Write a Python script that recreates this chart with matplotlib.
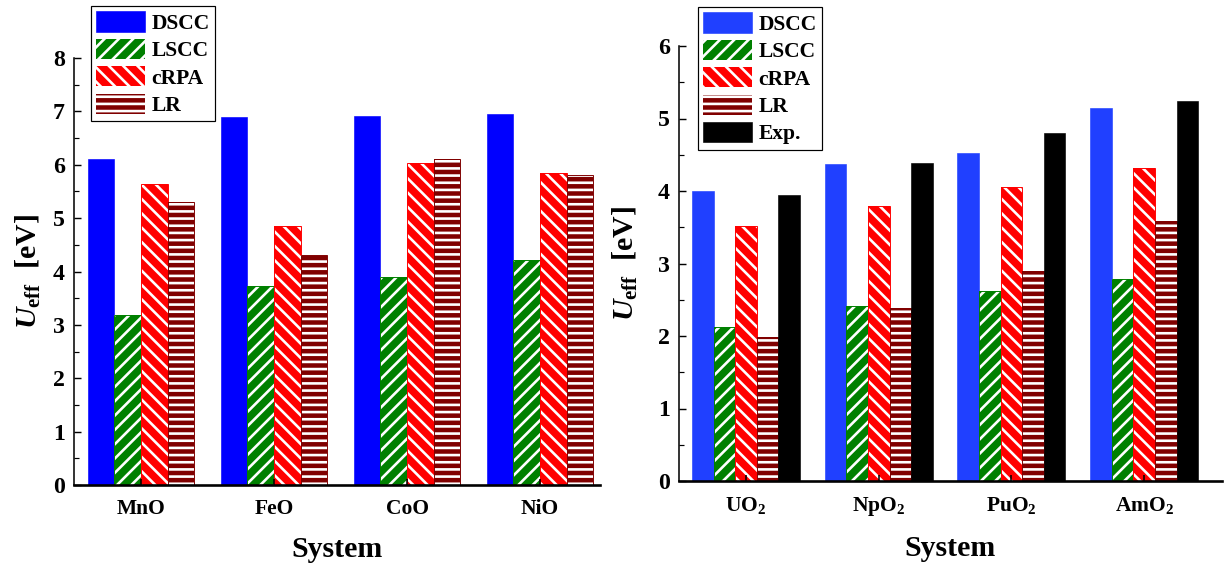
import matplotlib
matplotlib.use("Agg")
import matplotlib.pyplot as plt
import numpy as np

# ---- data ----
left_systems = ["MnO", "FeO", "CoO", "NiO"]
left_dscc = [6.10, 6.90, 6.91, 6.95]
left_lscc = [3.18, 3.73, 3.90, 4.21]
left_crpa = [5.63, 4.86, 6.04, 5.85]
left_lr = [5.30, 4.30, 6.11, 5.81]

right_systems = [r"UO$_2$", r"NpO$_2$", r"PuO$_2$", r"AmO$_2$"]
right_dscc = [4.00, 4.37, 4.52, 5.14]
right_lscc = [2.13, 2.42, 2.62, 2.79]
right_crpa = [3.52, 3.79, 4.06, 4.32]
right_lr = [1.99, 2.39, 2.89, 3.59]
right_exp = [3.95, 4.38, 4.80, 5.24]

series_names = ["DSCC", "LSCC", "cRPA", "LR", "Exp."]

DPI = 86
plt.rcParams.update({
    "font.family": "serif",
    "font.serif": ["Liberation Serif", "DejaVu Serif"],
    "font.weight": "bold",
    "mathtext.fontset": "custom",
    "mathtext.rm": "Liberation Serif:bold",
    "mathtext.bf": "Liberation Serif:bold",
    "mathtext.it": "Liberation Serif:italic:bold",
    "hatch.linewidth": 2.2,
})

W, H = 1224, 564
fig = plt.figure(figsize=(W / DPI, H / DPI), dpi=DPI)

# axes boxes in pixels: (left, right, top, bottom)
L1 = (74, 600, 58, 485)
L2 = (679, 1222, 46, 481)


def box(b):
    l, r, t, bt = b
    return [l / W, (H - bt) / H, (r - l) / W, (bt - t) / H]


ax1 = fig.add_axes(box(L1))
ax2 = fig.add_axes(box(L2))

styles = {
    "DSCC": dict(hatch=None),
    "LSCC": dict(color="#008000", hatch="//"),
    "cRPA": dict(color="#FF0000", hatch="\\\\"),
    "LR": dict(color="#800000", hatch="--"),
    "Exp.": dict(color="#000000", hatch=None),
}


def draw(ax, systems, data, width, dscc_color):
    n = len(data)
    x = np.arange(len(systems))
    handles = []
    for i, (name, vals) in enumerate(data):
        off = (i - (n - 1) / 2) * width
        st = styles[name]
        color = dscc_color if name == "DSCC" else st["color"]
        if st["hatch"]:
            b = ax.bar(x + off, vals, width, facecolor=color, edgecolor="white",
                       hatch=st["hatch"], linewidth=0, label=name)
            ax.bar(x + off, vals, width, facecolor="none", edgecolor=color,
                   linewidth=0.8)
        else:
            b = ax.bar(x + off, vals, width, facecolor=color, edgecolor=color,
                       linewidth=0.5, label=name)
        handles.append(b)
    ax.set_xticks(x)
    ax.set_xticklabels(systems, fontsize=18, fontweight="bold")
    for s in ["top", "right"]:
        ax.spines[s].set_visible(False)
    ax.spines["bottom"].set_linewidth(2.2)
    ax.spines["left"].set_linewidth(1.3)
    ax.tick_params(axis="x", direction="in", length=5, width=1.3, pad=12)
    ax.tick_params(axis="y", which="major", direction="in", length=6,
                   width=1.2, labelsize=20, pad=7.5)
    ax.tick_params(axis="y", which="minor", direction="in", length=4,
                   width=1.0)
    for lab in ax.get_yticklabels():
        lab.set_fontweight("bold")
    ax.set_xlabel("System", fontsize=25, fontweight="bold", labelpad=14)
    ax.set_ylabel(r"$U_{\mathrm{eff}}$  [eV]", fontsize=25, fontweight="bold")
    return handles


h1 = draw(ax1, left_systems,
          [("DSCC", left_dscc), ("LSCC", left_lscc), ("cRPA", left_crpa), ("LR", left_lr)],
          0.2, "#0000FF")
ax1.set_xlim(-0.504, 3.451)
ax1.set_ylim(0, 8)
ax1.set_yticks(np.arange(0, 9, 1))
ax1.set_yticks(np.arange(0.5, 8, 1), minor=True)
ax1.yaxis.set_label_coords(-(L1[0] - 43) / (L1[1] - L1[0]), 0.5)

h2 = draw(ax2, right_systems,
          [("DSCC", right_dscc), ("LSCC", right_lscc), ("cRPA", right_crpa),
           ("LR", right_lr), ("Exp.", right_exp)],
          0.163, "#2040FF")
ax2.set_xlim(-0.505, 3.587)
ax2.set_ylim(0, 6)
ax2.set_yticks(np.arange(0, 7, 1))
ax2.set_yticks(np.arange(0.5, 6, 1), minor=True)
ax2.yaxis.set_label_coords(-(L2[0] - 640) / (L2[1] - L2[0]), 0.5)

leg_kw = dict(frameon=True, fancybox=False, edgecolor="black", framealpha=1,
              prop={"family": "serif", "weight": "bold", "size": 18},
              handlelength=2.28, handleheight=1.07, handletextpad=0.28,
              labelspacing=0.23, borderpad=0.25, borderaxespad=0)
leg1 = ax1.legend(handles=h1, labels=series_names[:4], loc="upper left",
                  bbox_to_anchor=(17 / (L1[1] - L1[0]), (L1[3] - 6) / (L1[3] - L1[2])),
                  **leg_kw)
leg1.get_frame().set_linewidth(1.0)
leg2 = ax2.legend(handles=h2, labels=series_names, loc="upper left",
                  bbox_to_anchor=(19 / (L2[1] - L2[0]), (L2[3] - 7) / (L2[3] - L2[2])),
                  **leg_kw)
leg2.get_frame().set_linewidth(1.0)

fig.savefig("out.png", dpi=DPI)
